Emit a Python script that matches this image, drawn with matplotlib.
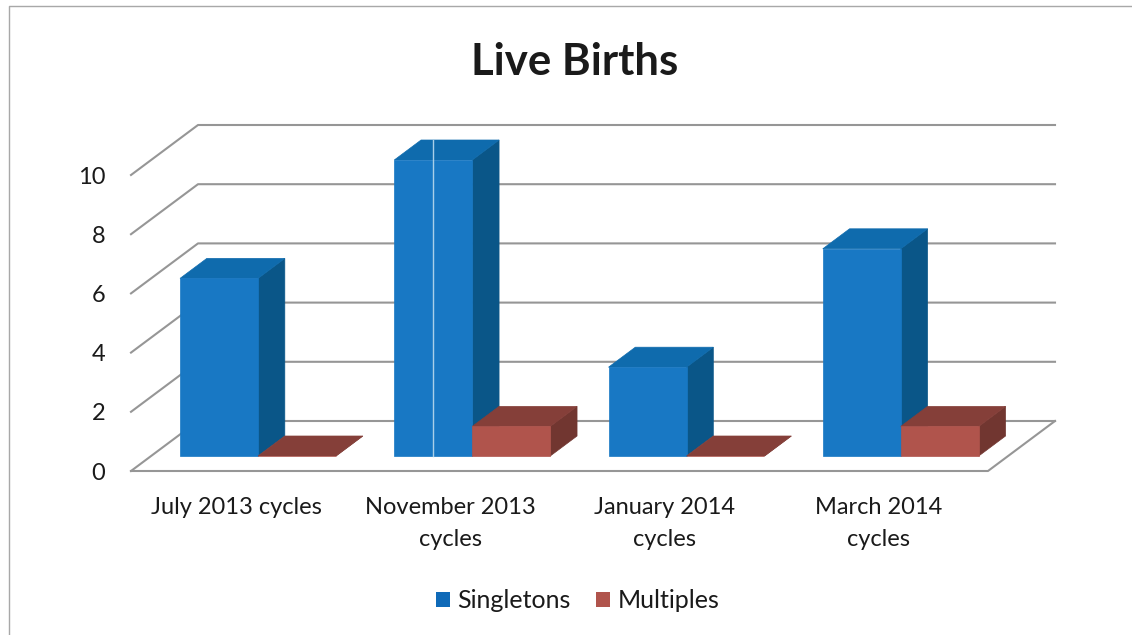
from matplotlib import pyplot as plt
from matplotlib.lines import Line2D
from matplotlib.patches import Patch, Polygon

plt.rcParams['font.family'] = ['Lato', 'DejaVu Sans']

W, H = 1132, 635
categories = ['July 2013 cycles', 'November 2013\ncycles', 'January 2014\ncycles', 'March 2014\ncycles']
singletons = [6, 10, 3, 7]
multiples = [0, 1, 0, 1]
y_ticks = [0, 2, 4, 6, 8, 10]

# plot floor front edge in pixels of the picture
LEFT, RIGHT, BOTTOM, TOP = 131, 988, 471, 175
# oblique projection, depth 1 = back wall
DEPTH_X = 67 / ((RIGHT - LEFT) / 4)
DEPTH_Y = 50 / ((BOTTOM - TOP) / 10)
BAR_START = 0.135
BAR_WIDTH = 0.364
BAR_FRONT = 0.3
BAR_BACK = 0.7

# front, top, side
BLUE = ('#1878c4', '#0f6bad', '#0a5688')
RED = ('#b0544c', '#853f39', '#713630')
GRID = '#969696'
TEXT = '#1a1a1a'


def project(x, y, d):
    return x + d * DEPTH_X, y + d * DEPTH_Y


def draw_bar(ax, x0, value, colors, z):
    x1 = x0 + BAR_WIDTH
    f = BAR_FRONT
    b = BAR_BACK
    front = [project(x0, 0, f), project(x1, 0, f), project(x1, value, f), project(x0, value, f)]
    top = [project(x0, value, f), project(x1, value, f), project(x1, value, b), project(x0, value, b)]
    side = [project(x1, 0, f), project(x1, 0, b), project(x1, value, b), project(x1, value, f)]
    for pts, c in zip((side, top, front), (colors[2], colors[1], colors[0])):
        ax.add_patch(Polygon(pts, closed=True, facecolor=c, edgecolor=c, linewidth=0.5,
                             clip_on=False, zorder=z))


fig = plt.figure(figsize=(W / 100, H / 100), dpi=100, facecolor='white')
ax = fig.add_axes([LEFT / W, 1 - BOTTOM / H, (RIGHT - LEFT) / W, (BOTTOM - TOP) / H])
ax.set_xlim(0, len(categories))
ax.set_ylim(0, y_ticks[-1])
ax.patch.set_visible(False)
for s in ax.spines.values():
    s.set_visible(False)

# chart frame, only top and left survive in the scan
fig.add_artist(Line2D([9 / W, 9 / W, 1], [0, 1 - 6 / H, 1 - 6 / H], transform=fig.transFigure,
                      color='#a8a8a8', lw=1))

# walls
n = len(categories)
for v in y_ticks:
    bx, by = project(0, v, 1)
    ex, ey = project(n, v, 1)
    ax.plot([0, bx, ex], [v, by, ey], color=GRID, lw=1.5, clip_on=False, zorder=1)
ax.plot([0, n, project(n, 0, 1)[0]], [0, 0, project(n, 0, 1)[1]], color=GRID, lw=1.5,
        clip_on=False, zorder=1)

for k in range(n):
    x0 = k + BAR_START
    # red sits in front of the blue side face
    draw_bar(ax, x0, singletons[k], BLUE, 3 + k)
    draw_bar(ax, x0 + BAR_WIDTH, multiples[k], RED, 3 + k + 0.5)

# scanner streak on second column
sx = project(1 + BAR_START + BAR_WIDTH / 2, 0, BAR_FRONT)[0]
ax.plot([sx, sx], [project(0, 0, BAR_FRONT)[1], project(0, singletons[1], BAR_BACK)[1]],
        color='#a9cfe8', lw=1, clip_on=False, zorder=9)

ax.set_yticks(y_ticks)
ax.set_xticks([k + 0.49 for k in range(n)])
ax.set_xticklabels(categories, linespacing=1.6)
ax.tick_params(axis='both', length=0, labelsize=17, labelcolor=TEXT)
ax.tick_params(axis='x', pad=19)
ax.tick_params(axis='y', pad=18.5)

fig.text(575 / W, 1 - 62 / H, 'Live Births', fontsize=31.5, fontweight='bold', color=TEXT,
         ha='center', va='center')

handles = [Patch(facecolor='#0f6ab8', label='Singletons'), Patch(facecolor=RED[0], label='Multiples')]
fig.legend(handles=handles, loc='center', bbox_to_anchor=(577.5 / W, 1 - 601 / H), ncol=2, frameon=False,
           fontsize=18, handlelength=0.58, handleheight=0.58, handletextpad=0.28, columnspacing=1.0,
           labelcolor=TEXT)

fig.savefig('out.png', dpi=100)
